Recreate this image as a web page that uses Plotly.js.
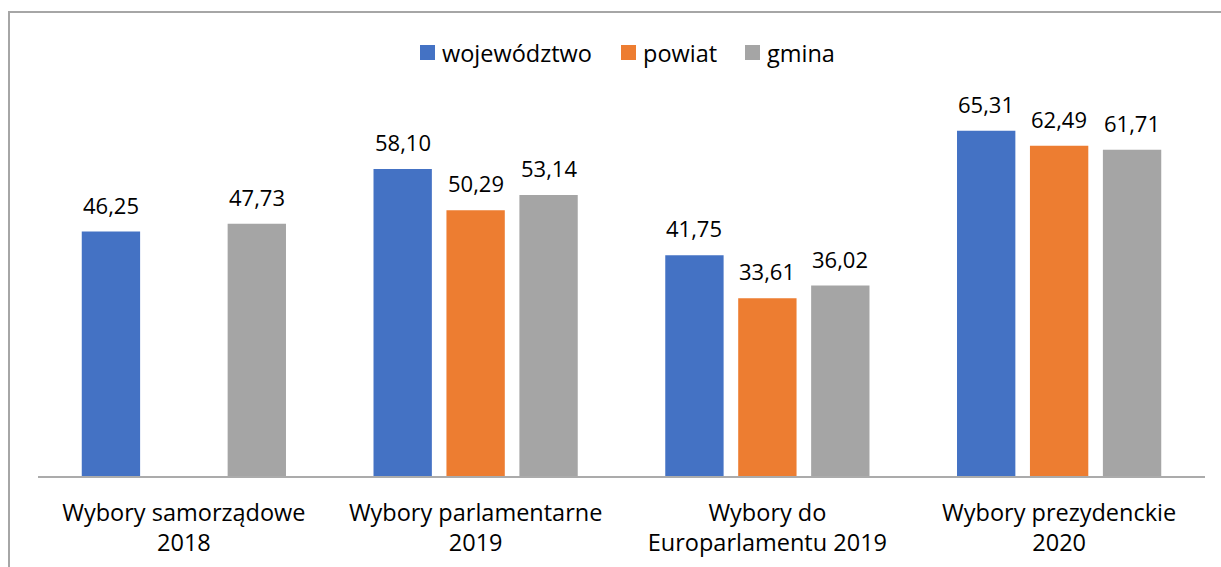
<!DOCTYPE html>
<html>
<head>
<meta charset="utf-8">
<script src="https://cdn.plot.ly/plotly-3.0.1.min.js"></script>
<style>
  html, body { margin: 0; padding: 0; background: #fff; overflow: hidden; }
  #wrap { position: relative; width: 1221px; height: 567px; }
  #chart { position: absolute; left: 0; top: 0; width: 1221px; height: 567px; }
  #frame { position: absolute; left: 8px; top: 11px; width: 1230px; height: 600px;
           border-left: 2px solid #A6A6A6; border-top: 2px solid #A6A6A6; pointer-events: none; }
</style>
</head>
<body>
<div id="wrap">
  <div id="chart"></div>
  <div id="frame"></div>
</div>
<script>
const categories = [
  "Wybory samorządowe<br>2018",
  "Wybory parlamentarne<br>2019",
  "Wybory do<br>Europarlamentu 2019",
  "Wybory prezydenckie<br>2020"
];
const seriesNames = ["województwo", "powiat", "gmina"];
const wojewodztwo = [46.25, 58.10, 41.75, 65.31];
const powiat = [null, 50.29, 33.61, 62.49];
const gmina = [47.73, 53.14, 36.02, 61.71];
const colors = ["#4472C4", "#ED7D31", "#A5A5A5"];

const allSeries = [wojewodztwo, powiat, gmina];
const FONT = "Open Sans, sans-serif";
const fmt = v => v.toFixed(2).replace(".", ",");

// plot area geometry (pixels)
const M = { l: 38, r: 16, t: 106, b: 91 };
const W = 1221, H = 567;
const PW = W - M.l - M.r, PH = H - M.t - M.b;
const px2x = px => (px - M.l) / PW;
const py2y = py => (H - M.b - py) / PH;

const traces = allSeries.map((vals, i) => ({
  type: "bar",
  name: seriesNames[i],
  x: categories,
  y: vals,
  marker: { color: colors[i] },
  hoverinfo: "none",
  showlegend: false
}));

const slotPx = 72.9;
const annotations = [];
const shapes = [];
allSeries.forEach((vals, i) => {
  vals.forEach((v, j) => {
    if (v === null) return;
    annotations.push({
      x: categories[j], y: v, xref: "x", yref: "y",
      xshift: (i - 1) * slotPx, yshift: 10,
      yanchor: "bottom", showarrow: false,
      text: fmt(v),
      font: { family: FONT, size: 22, color: "#000" }
    });
  });
});

// legend (drawn as shapes + text)
const legendLeft = [420, 621, 745];
const legendCY = 52.5, sq = 15;
seriesNames.forEach((name, i) => {
  shapes.push({
    type: "rect", xref: "paper", yref: "paper",
    x0: px2x(legendLeft[i]), x1: px2x(legendLeft[i] + sq),
    y0: py2y(legendCY + sq / 2), y1: py2y(legendCY - sq / 2),
    fillcolor: colors[i], line: { width: 0 }
  });
  annotations.push({
    x: px2x(legendLeft[i] + sq + 5), y: py2y(legendCY),
    xref: "paper", yref: "paper", xanchor: "left", yanchor: "middle",
    showarrow: false, text: name,
    font: { family: FONT, size: 23.5, color: "#000" }
  });
});

const layout = {
  width: W, height: H,
  margin: M,
  paper_bgcolor: "#fff", plot_bgcolor: "#fff",
  barmode: "group",
  bargap: 0.25,
  bargroupgap: 0.2,
  showlegend: false,
  xaxis: {
    type: "category",
    showline: true, linecolor: "#ABABAB", linewidth: 1.5,
    ticks: "", showgrid: false, zeroline: false,
    ticklabelstandoff: 15,
    tickfont: { family: FONT, size: 23.5, color: "#000" },
    fixedrange: true
  },
  yaxis: {
    range: [0, 70], visible: false, showgrid: false, zeroline: false, fixedrange: true
  },
  shapes: shapes,
  annotations: annotations,
  font: { family: FONT }
};

Plotly.newPlot("chart", traces, layout, { displayModeBar: false, staticPlot: true });
</script>
</body>
</html>
